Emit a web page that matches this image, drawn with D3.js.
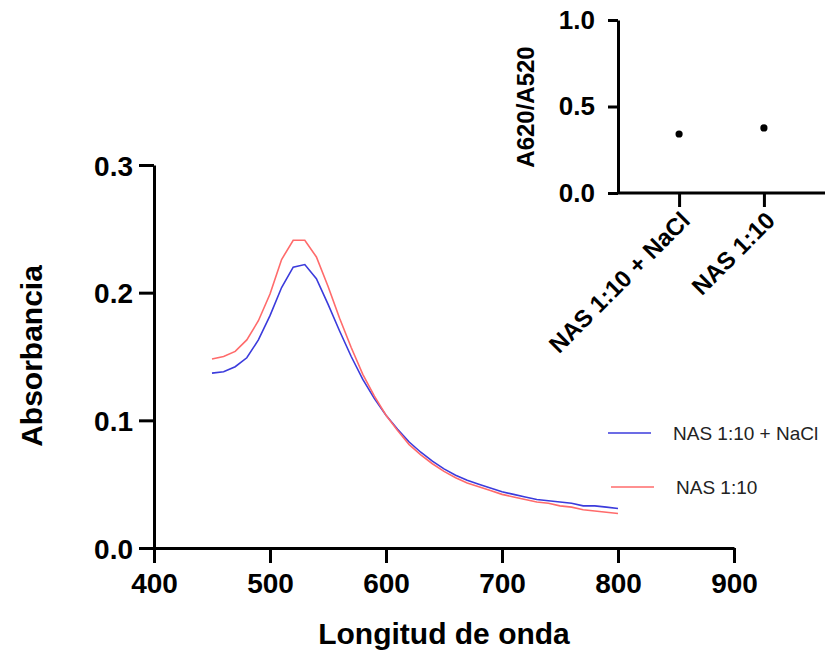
<!DOCTYPE html>
<html>
<head>
<meta charset="utf-8">
<script src="https://cdn.jsdelivr.net/npm/d3@7"></script>
<style>
  html, body { margin: 0; padding: 0; background: #fff; }
  svg { display: block; font-family: "Liberation Sans", Arial, sans-serif; }
</style>
</head>
<body>
<svg id="chart" width="833" height="653"></svg>
<script>
// ---- Data ----
const wavelengths = [450,460,470,480,490,500,510,520,530,540,550,560,570,580,590,600,610,620,630,640,650,660,670,680,690,700,710,720,730,740,750,760,770,780,790,800];
const absNaCl = [0.137,0.138,0.142,0.149,0.163,0.182,0.204,0.220,0.222,0.211,0.191,0.170,0.150,0.132,0.117,0.104,0.093,0.083,0.075,0.068,0.062,0.057,0.053,0.050,0.047,0.044,0.042,0.040,0.038,0.037,0.036,0.035,0.033,0.033,0.032,0.031];
const absNAS = [0.148,0.150,0.154,0.163,0.178,0.199,0.226,0.241,0.241,0.228,0.205,0.180,0.157,0.136,0.119,0.104,0.092,0.081,0.073,0.066,0.060,0.055,0.051,0.048,0.045,0.042,0.040,0.038,0.036,0.035,0.033,0.032,0.030,0.029,0.028,0.027];
const seriesNames = ["NAS 1:10 + NaCl", "NAS 1:10"];
const seriesColors = ["#3b3bdc", "#ff6b6b"];
const xTicks = [400,500,600,700,800,900];
const yTicks = [0.0,0.1,0.2,0.3];

const insetCategories = ["NAS 1:10 + NaCl", "NAS 1:10"];
const insetRatios = [0.341, 0.376];
const insetTicks = [0.0, 0.5, 1.0];

const svg = d3.select("#chart");
const font = "'Liberation Sans', Arial, sans-serif";

// ---- Main chart ----
const x = d3.scaleLinear().domain([400, 900]).range([154, 734]);
const y = d3.scaleLinear().domain([0, 0.3]).range([548, 165]);

const gx = svg.append("g").attr("transform", "translate(0,548)")
  .call(d3.axisBottom(x).tickValues(xTicks).tickFormat(d3.format("d")).tickSize(15).tickSizeOuter(0).tickPadding(10));
const gy = svg.append("g").attr("transform", "translate(154,0)")
  .call(d3.axisLeft(y).tickValues(yTicks).tickFormat(d3.format(".1f")).tickSize(15).tickSizeOuter(0).tickPadding(6));
[gx, gy].forEach(g => {
  g.select(".domain").attr("stroke", "#000").attr("stroke-width", 3);
  g.selectAll(".tick line").attr("stroke", "#000").attr("stroke-width", 3);
  g.selectAll(".tick text").attr("fill", "#000").style("font-size", "28px").style("font-weight", "bold").style("font-family", font);
});
gy.selectAll(".tick text").attr("dy", "0.36em");

const line = d3.line().x((d, i) => x(wavelengths[i])).y(d => y(d));
[absNaCl, absNAS].forEach((vals, k) => {
  svg.append("path").datum(vals).attr("d", line)
    .attr("fill", "none").attr("stroke", seriesColors[k]).attr("stroke-width", 1.6);
});

svg.append("text").attr("x", 444).attr("y", 644).attr("text-anchor", "middle")
  .style("font-size", "30px").style("font-weight", "bold").text("Longitud de onda");
svg.append("text").attr("transform", "translate(42,356) rotate(-90)").attr("text-anchor", "middle")
  .style("font-size", "30px").style("font-weight", "bold").text("Absorbancia");

// Legend
const legY = [433, 487];
seriesNames.forEach((name, k) => {
  svg.append("line").attr("x1", 608 + k * 3).attr("x2", 651 + k * 3).attr("y1", legY[k]).attr("y2", legY[k])
    .attr("stroke", seriesColors[k]).attr("stroke-width", 1.6);
  svg.append("text").attr("x", 673 + k * 3).attr("y", legY[k] + 7)
    .style("font-size", "19px").attr("fill", "#222").text(name);
});

// ---- Inset ----
const ix = d3.scalePoint().domain(insetCategories).range([618, 825]).padding(0.72);
const iy = d3.scaleLinear().domain([0, 1]).range([193, 20]);

const igx = svg.append("g").attr("transform", "translate(0,193)")
  .call(d3.axisBottom(ix).tickSize(14).tickSizeOuter(0).tickPadding(6));
igx.select(".domain").attr("d", "M618,0H825");
const igy = svg.append("g").attr("transform", "translate(618,0)")
  .call(d3.axisLeft(iy).tickValues(insetTicks).tickFormat(d3.format(".1f")).tickSize(10).tickSizeOuter(0).tickPadding(13));
[igx, igy].forEach(g => {
  g.select(".domain").attr("stroke", "#000").attr("stroke-width", 3);
  g.selectAll(".tick line").attr("stroke", "#000").attr("stroke-width", 3);
  g.selectAll(".tick text").attr("fill", "#000").style("font-weight", "bold").style("font-family", font);
});
igy.selectAll(".tick text").style("font-size", "26px");
igx.selectAll(".tick text")
  .style("font-size", "24px")
  .attr("x", 0).attr("y", 0)
  .attr("text-anchor", "end").attr("dy", "0.35em")
  .attr("transform", "translate(6,23) rotate(-45)");

svg.append("g").selectAll("circle").data(insetRatios).join("circle")
  .attr("cx", (d, i) => ix(insetCategories[i])).attr("cy", d => iy(d)).attr("r", 3.6).attr("fill", "#000");

svg.append("text").attr("transform", "translate(534,107) rotate(-90)").attr("text-anchor", "middle")
  .style("font-size", "24px").style("font-weight", "bold").text("A620/A520");
</script>
</body>
</html>
